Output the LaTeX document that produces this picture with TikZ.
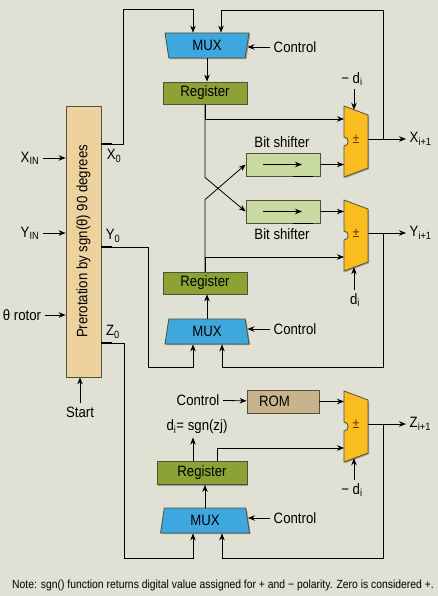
\documentclass[tikz,border=0pt]{standalone}
\usepackage{fontspec}
\setmainfont{Liberation Sans}[FakeStretch=0.88]
\usetikzlibrary{arrows.meta,shapes.geometric,shadows}

\definecolor{bgcol}{RGB}{224,224,212}
\definecolor{precol}{RGB}{238,210,158}
\definecolor{muxcol}{RGB}{62,168,222}
\definecolor{regcol}{RGB}{140,162,52}
\definecolor{shiftcol}{RGB}{200,218,160}
\definecolor{romcol}{RGB}{200,180,140}
\definecolor{addcol}{RGB}{250,188,30}
\definecolor{edgecol}{RGB}{80,80,60}

\tikzset{
  conn/.style={line width=0.8pt,-{Stealth[length=7pt,width=5.5pt]}},
  shade/.style={drop shadow={shadow xshift=1.2pt,shadow yshift=-1.2pt,opacity=0.3,fill=black}},
  blk/.style={draw=edgecol,line width=0.8pt,shade,inner sep=0pt},
  prebox/.style={blk,fill=precol,minimum width=35pt,minimum height=271pt},
  regbox/.style={blk,fill=regcol,minimum width=84pt,minimum height=22pt},
  shiftbox/.style={blk,fill=shiftcol,minimum width=74pt,minimum height=23pt},
  rombox/.style={blk,fill=romcol,minimum width=72pt,minimum height=23pt,text width=48pt,align=left},
  muxbox/.style={blk,fill=muxcol,shape=trapezium,trapezium left angle=70,trapezium right angle=70,
    trapezium stretches body,minimum width=84pt,minimum height=25pt},
  addfill/.style={draw=edgecol,line width=0.8pt,fill=addcol,shade},
  pmlab/.style={text={rgb,255:red,110;green,50;blue,0},font=\fontsize{14}{14}\selectfont}
}

\newcommand\adder[3]{%
  \begin{scope}[shift={(#2,#3)}]
    \draw[addfill] (0,0) -- (24,9) -- (24,62) -- (0,71) -- (0,40)
      .. controls (5.5,40) and (5.5,31) .. (0,31) -- cycle;
    \node[pmlab] (#1-pm) at (12,33) {±};
    \coordinate (#1-in1) at (0,13);
    \coordinate (#1-in2) at (0,57);
    \coordinate (#1-out) at (24,33);
    \coordinate (#1-top) at (10,3.75);
    \coordinate (#1-bot) at (10,67.25);
  \end{scope}}

\begin{document}
\begin{tikzpicture}[x=1pt,y=-1pt,font=\fontsize{15}{17}\selectfont]
\fill[bgcol] (0,0) rectangle (438,596);
\useasboundingbox (0,0) rectangle (438,596);

\node[prebox] (prerot) at (83.5,241.5) {\rotatebox{90}{Prerotation by sgn(θ) 90 degrees}};
\node (xin) at (30,158) {X\textsubscript{IN}};
\node (yin) at (30,233) {Y\textsubscript{IN}};
\node (rotor) at (22,315) {θ rotor};
\node (start) at (80,412) {Start};
\draw[conn] (xin) -- (xin -| prerot.west);
\draw[conn] (yin) -- (yin -| prerot.west);
\draw[conn] (rotor) -- (rotor -| prerot.west);
\draw[conn] (start) -- (start |- prerot.south);

\coordinate (x0) at (prerot.east |- 0,144);
\coordinate (y0) at (prerot.east |- 0,247);
\coordinate (z0) at (prerot.east |- 0,343);
\node (x0lab) at (114,156) {X\textsubscript{0}};
\node (y0lab) at (113,236) {Y\textsubscript{0}};
\node (z0lab) at (113,332) {Z\textsubscript{0}};

\node[muxbox,shape border rotate=180] (muxx) at (207,45.5) {MUX};
\node[regbox] (regx) at (205,93) {Register};
\node[shiftbox] (shift1) at (283,164.5) {};
\node[shiftbox] (shift2) at (283,211.5) {};
\node (bs1) at (282,142) {Bit shifter};
\node (bs2) at (282,234) {Bit shifter};
\node[regbox] (regy) at (205,283) {Register};
\node[muxbox] (muxy) at (207,331.5) {MUX};
\node[rombox] (rom) at (283,401.5) {ROM};
\node[regbox,minimum width=90pt,minimum height=23pt] (regz) at (202,473) {Register};
\node[muxbox,minimum width=89pt] (muxz) at (205,520.5) {MUX};

\node (ctlx) at (295,47) {Control};
\node (ctly) at (295,329) {Control};
\node (ctlz) at (295,518) {Control};
\node (ctlrom) at (198,400) {Control};
\node (dzs) at (197,427) {d\textsubscript{i}= sgn(zj)};

\adder{addx}{344}{106}
\adder{addy}{344}{200}
\adder{addz}{344}{391}
\node (dx) at (352,79) {− d\textsubscript{i}};
\node (dy) at (355,300) {d\textsubscript{i}};
\node (dzl) at (352,490) {− d\textsubscript{i}};

\foreach \s in {shift1,shift2} {
  \draw[conn] ([xshift=-20pt]\s.center) -- ([xshift=19pt]\s.center);
  \draw[line width=1.6pt] ([xshift=10pt]\s.south) -- ([xshift=30pt]\s.south);
}

\draw[line width=1.8pt] (x0) -- ++(11,0);
\draw[line width=1.8pt] (y0) -- ++(11,0);
\draw[line width=1.8pt] (z0) -- ++(11,0);

\draw[conn] (x0) -| (123,9) -| ([xshift=-14pt]muxx.north);
\draw[conn] (ctlx.west) -- (ctlx.west -| muxx.east);
\draw[conn] (muxx.south) -- (muxx.south |- regx.north);
\draw[conn] (regx.south) |- (addx-in1);
\draw[conn] (regx.south) -- ++(0,73) -- (shift2.west);
\draw[conn] (regy.north) -- ++(0,-72) -- (shift1.west);
\draw[conn] (regy.north) |- (addy-in2);
\draw[conn] (shift1.east) -- (shift1.east -| addx-in2);
\draw[conn] (shift2.east) -- (shift2.east -| addy-in1);
\draw[conn] (dx.south -| addx-top) -- (addx-top);
\draw[conn] (addx-out) -- ++(38,0) node[right] (xout) {X\textsubscript{i+1}};
\draw[conn] (addx-out -| 383,0) -- (383,10) -| ([xshift=14pt]muxx.north);

\draw[conn] (y0) -| (148,367) -| ([xshift=-14pt]muxy.south);
\draw[conn] (ctly.west) -- (ctly.west -| muxy.east);
\draw[conn] (muxy.north) -- (muxy.north |- regy.south);
\draw[conn] (dy.north -| addy-bot) -- (addy-bot);
\draw[conn] (addy-out) -- ++(38,0) node[right] (yout) {Y\textsubscript{i+1}};
\draw[conn] (addy-out -| 383,0) -- (383,367) -| ([xshift=15pt]muxy.south);

\draw[conn] (z0) -| (124,558) -| ([xshift=-12pt]muxz.south);
\draw[conn] (ctlz.west) -- (ctlz.west -| muxz.east);
\draw[conn] (muxz.north) -- (muxz.north |- regz.south);
\draw[conn] ([xshift=-9pt]regz.north) -- ([xshift=-9pt]regz.north |- dzs.south);
\draw[conn] ([xshift=15pt]regz.north) |- (addz-in2);
\draw[conn] (ctlrom) -- (rom);
\draw[conn] (rom.east) -- (rom.east -| addz-in1);
\draw[conn] (dzl.north -| addz-bot) -- (addz-bot);
\draw[conn] (addz-out) -- ++(38,0) node[right] (zout) {Z\textsubscript{i+1}};
\draw[conn] (addz-out -| 383,0) -- (383,558) -| ([xshift=17pt]muxz.south);

\node (note) at (223,585) {\fontsize{11.8}{13}\selectfont Note: sgn() function returns digital value assigned for + and − polarity. Zero is considered +.};
\end{tikzpicture}
\end{document}
